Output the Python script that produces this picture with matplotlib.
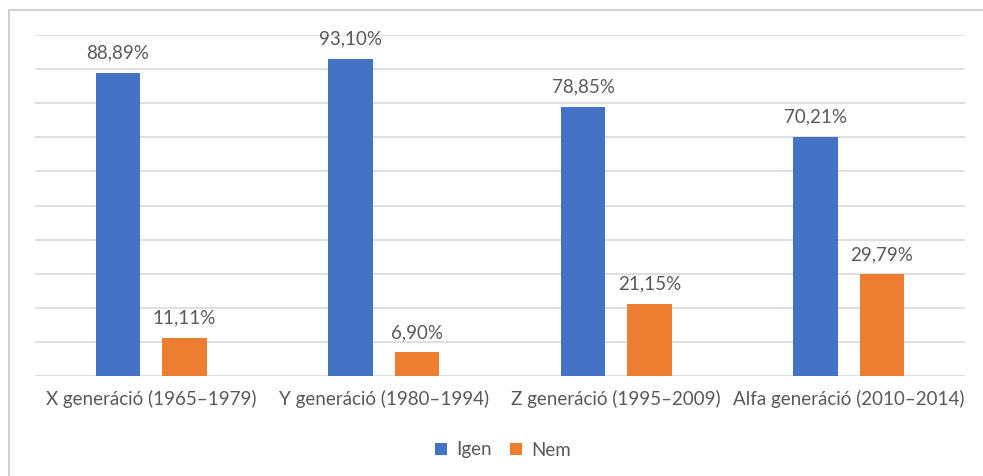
import matplotlib
matplotlib.use("Agg")
import matplotlib.pyplot as plt
from matplotlib.patches import Rectangle
import numpy as np

categories = ["X generáció (1965–1979)", "Y generáció (1980–1994)",
              "Z generáció (1995–2009)", "Alfa generáció (2010–2014)"]
igen = [88.89, 93.10, 78.85, 70.21]
nem = [11.11, 6.90, 21.15, 29.79]
series_names = ["Igen", "Nem"]
colors = ["#4472C4", "#ED7D31"]

plt.rcParams['font.family'] = ['Lato', 'DejaVu Sans']
W, H = 983, 476
fig = plt.figure(figsize=(W/100, H/100), dpi=100)
ax = fig.add_axes([35/W, 1-376/H, 930/W, (376-35)/H])

x = np.arange(len(categories))
bw = 0.19
off = 0.143
fs = 13.5
for vals, o, c, name in [(igen, -off, colors[0], series_names[0]), (nem, off, colors[1], series_names[1])]:
    bars = ax.bar(x + o, vals, width=bw, color=c, label=name, zorder=3)
    for b, v in zip(bars, vals):
        ax.text(b.get_x() + b.get_width()/2, v + 3.3, f"{v:.2f}%".replace('.', ','),
                ha='center', va='bottom', fontsize=fs, color='#595959')

ax.set_xlim(-0.5, len(categories) - 0.5)
ax.set_ylim(0, 100)
ax.set_yticks(np.arange(0, 101, 10))
ax.yaxis.grid(True, color='#d9d9d9', linewidth=1.2, zorder=0)
ax.tick_params(axis='y', left=False, labelleft=False)
ax.tick_params(axis='x', length=0, pad=10, labelsize=fs, labelcolor='#595959')
ax.set_xticks(x)
ax.set_xticklabels(categories)
for s in ax.spines.values():
    s.set_visible(False)

leg = fig.legend(loc='center', bbox_to_anchor=(503/W, 1-450/H), ncol=2, frameon=False,
                 fontsize=fs, handlelength=0.6, handleheight=0.6, columnspacing=1.0, handletextpad=0.5)
for t in leg.get_texts():
    t.set_color('#595959')

fig.patches.append(Rectangle((9/W, -0.1), 1.2, 1 - 10/H + 0.1, transform=fig.transFigure,
                             fill=False, edgecolor='#d0d0d0', linewidth=1.5))
fig.savefig("out.png", dpi=100)
